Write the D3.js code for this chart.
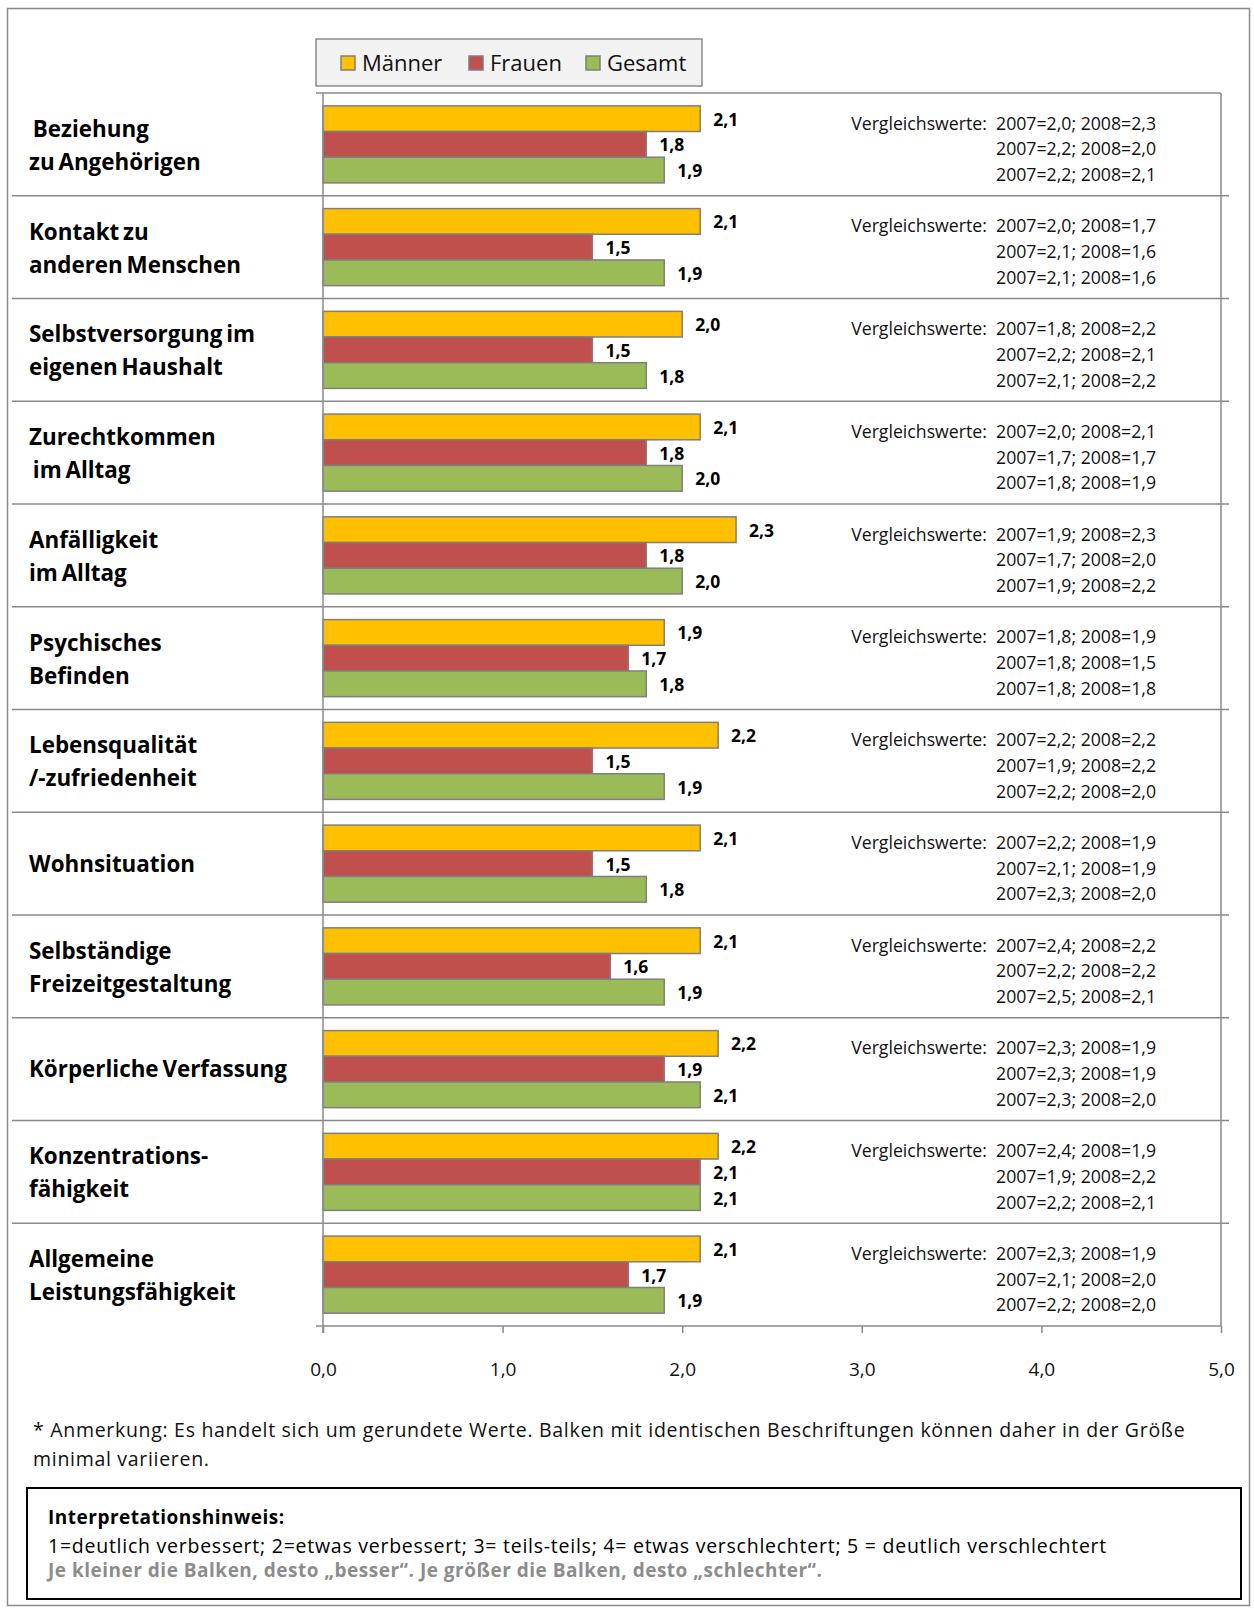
<!DOCTYPE html>
<html lang="de">
<head>
<meta charset="utf-8">
<script src="https://cdn.jsdelivr.net/npm/d3@7"></script>
<style>
  html, body { margin: 0; padding: 0; background: #fff; }
  svg { display: block; font-family: "Open Sans", "Noto Sans", sans-serif; }
  text { white-space: pre; }
</style>
</head>
<body>
<svg id="chart" width="1254" height="1612"></svg>
<script>
// Bereiche (Zeilenumbrüche im Label als Array)
const categories = [
  [" Beziehung", "zu Angehörigen"],
  ["Kontakt zu", "anderen Menschen"],
  ["Selbstversorgung im", "eigenen Haushalt"],
  ["Zurechtkommen", " im Alltag"],
  ["Anfälligkeit", "im Alltag"],
  ["Psychisches", "Befinden"],
  ["Lebensqualität", "/-zufriedenheit"],
  ["Wohnsituation"],
  ["Selbständige", "Freizeitgestaltung"],
  ["Körperliche Verfassung"],
  ["Konzentrations-", "fähigkeit"],
  ["Allgemeine", "Leistungsfähigkeit"]
];

const seriesNames = ["Männer", "Frauen", "Gesamt"];

// Mittelwerte (gerundet)
const maenner = [2.1, 2.1, 2.0, 2.1, 2.3, 1.9, 2.2, 2.1, 2.1, 2.2, 2.2, 2.1];
const frauen  = [1.8, 1.5, 1.5, 1.8, 1.8, 1.7, 1.5, 1.5, 1.6, 1.9, 2.1, 1.7];
const gesamt  = [1.9, 1.9, 1.8, 2.0, 2.0, 1.8, 1.9, 1.8, 1.9, 2.1, 2.1, 1.9];

// Vergleichswerte der Vorjahre
const vgl2007Maenner = ["2,0", "2,0", "1,8", "2,0", "1,9", "1,8", "2,2", "2,2", "2,4", "2,3", "2,4", "2,3"];
const vgl2008Maenner = ["2,3", "1,7", "2,2", "2,1", "2,3", "1,9", "2,2", "1,9", "2,2", "1,9", "1,9", "1,9"];
const vgl2007Frauen  = ["2,2", "2,1", "2,2", "1,7", "1,7", "1,8", "1,9", "2,1", "2,2", "2,3", "1,9", "2,1"];
const vgl2008Frauen  = ["2,0", "1,6", "2,1", "1,7", "2,0", "1,5", "2,2", "1,9", "2,2", "1,9", "2,2", "2,0"];
const vgl2007Gesamt  = ["2,2", "2,1", "2,1", "1,8", "1,9", "1,8", "2,2", "2,3", "2,5", "2,3", "2,2", "2,2"];
const vgl2008Gesamt  = ["2,1", "1,6", "2,2", "1,9", "2,2", "1,8", "2,0", "2,0", "2,1", "2,0", "2,1", "2,0"];

const xTicks = [0, 1, 2, 3, 4, 5];

const colors = { "Männer": "#FFC000", "Frauen": "#C0504D", "Gesamt": "#9BBB59" };

const values = { "Männer": maenner, "Frauen": frauen, "Gesamt": gesamt };
const vgl = {
  "Männer": [vgl2007Maenner, vgl2008Maenner],
  "Frauen": [vgl2007Frauen, vgl2008Frauen],
  "Gesamt": [vgl2007Gesamt, vgl2008Gesamt]
};

const comma = d => d3.format(".1f")(d).replace(".", ",");

const svg = d3.select("#chart");

// Layout
const plot = { left: 323, right: 1221, top: 93, bottom: 1326 };
const gridColor = "#8a8a8a";

const x = d3.scaleLinear().domain([0, 5]).range([plot.left, plot.right]);
const y = d3.scaleBand().domain(d3.range(categories.length)).range([plot.top, plot.bottom]);
const ySub = d3.scaleBand().domain(seriesNames).range([0, y.bandwidth()]).paddingInner(0).paddingOuter(0.5);

// Außenrahmen
svg.append("rect")
  .attr("x", 7.5).attr("y", 8.5).attr("width", 1242).attr("height", 1597)
  .attr("fill", "none").attr("stroke", gridColor).attr("stroke-width", 1.5);

// Legende
const lg = svg.append("g");
lg.append("rect")
  .attr("x", 316).attr("y", 39).attr("width", 386).attr("height", 47)
  .attr("fill", "#F2F2F2").attr("stroke", gridColor).attr("stroke-width", 1.5);
const legendX = [341, 469, 586];
seriesNames.forEach((s, i) => {
  lg.append("rect")
    .attr("x", legendX[i]).attr("y", 56).attr("width", 14).attr("height", 14)
    .attr("fill", colors[s]).attr("stroke", "#7f7f7f").attr("stroke-width", 1.5);
  lg.append("text")
    .attr("x", legendX[i] + 21).attr("y", 71)
    .attr("font-size", 22).attr("fill", "#111")
    .text(s);
});

// Rahmen des Diagrammbereichs
svg.append("line")
  .attr("x1", 316).attr("x2", plot.right).attr("y1", plot.top).attr("y2", plot.top)
  .attr("stroke", gridColor).attr("stroke-width", 1.5);
svg.append("line")
  .attr("x1", plot.right).attr("x2", plot.right).attr("y1", plot.top).attr("y2", plot.bottom)
  .attr("stroke", gridColor).attr("stroke-width", 1.5);

// Trennlinien zwischen den Bereichen
svg.append("g").selectAll("line")
  .data(d3.range(1, categories.length))
  .join("line")
  .attr("x1", 12).attr("x2", 1229)
  .attr("y1", i => y(i)).attr("y2", i => y(i))
  .attr("stroke", gridColor).attr("stroke-width", 1.5);

// Balken
const groups = svg.append("g").selectAll("g")
  .data(categories.map((c, i) => i))
  .join("g")
  .attr("transform", i => `translate(0,${y(i)})`);

groups.selectAll("rect")
  .data(i => seriesNames.map(s => ({ s, v: values[s][i] })))
  .join("rect")
  .attr("x", x(0))
  .attr("y", d => ySub(d.s))
  .attr("width", d => x(d.v) - x(0))
  .attr("height", ySub.bandwidth())
  .attr("fill", d => colors[d.s])
  .attr("stroke", "#7f7f7f")
  .attr("stroke-width", 1.5);

// Wertbeschriftungen
groups.selectAll("text.val")
  .data(i => seriesNames.map(s => ({ s, v: values[s][i] })))
  .join("text")
  .attr("class", "val")
  .attr("x", d => x(d.v) + 13)
  .attr("y", d => ySub(d.s) + ySub.bandwidth() / 2 + 7)
  .attr("font-size", 17.5).attr("font-weight", 700).attr("fill", "#000")
  .text(d => comma(d.v));

// Vergleichswerte rechts
groups.selectAll("text.vgl")
  .data(i => seriesNames.map((s, k) => ({ s, k, a: vgl[s][0][i], b: vgl[s][1][i] })))
  .join("text")
  .attr("class", "vgl")
  .attr("x", 1156)
  .attr("y", d => ySub(d.s) + ySub.bandwidth() / 2 + 11)
  .attr("text-anchor", "end")
  .attr("font-size", 17.7).attr("fill", "#111")
  .text(d => (d.k === 0 ? "Vergleichswerte:  " : "") + `2007=${d.a}; 2008=${d.b}`);

// Bereichsnamen links
groups.append("text")
  .attr("font-size", 22.4).attr("font-weight", 700).attr("fill", "#000")
  .attr("word-spacing", -2)
  .each(function (i) {
    const lines = categories[i];
    const c = y.bandwidth() / 2;
    const capCenters = lines.length === 1 ? [c] : [c - 15.5, c + 17.5];
    d3.select(this).selectAll("tspan")
      .data(lines)
      .join("tspan")
      .attr("x", 29)
      .attr("y", (l, j) => capCenters[j] + 8)
      .text(l => l);
  });

// Senkrechte Achse
svg.append("line")
  .attr("x1", plot.left).attr("x2", plot.left).attr("y1", plot.top).attr("y2", plot.bottom + 7)
  .attr("stroke", gridColor).attr("stroke-width", 1.5);

// Waagerechte Achse
const xAxis = d3.axisBottom(x)
  .tickValues(xTicks)
  .tickFormat(comma)
  .tickSize(7)
  .tickPadding(30);
const ax = svg.append("g")
  .attr("transform", `translate(0,${plot.bottom})`)
  .call(xAxis);
ax.select(".domain").remove();
ax.append("line")
  .attr("x1", 316).attr("x2", plot.right)
  .attr("y1", 0).attr("y2", 0)
  .attr("stroke", gridColor).attr("stroke-width", 1.5);
ax.selectAll(".tick line").attr("stroke", gridColor).attr("stroke-width", 1.5);
ax.selectAll(".tick text")
  .attr("font-size", 19).attr("fill", "#111")
  .attr("font-family", "'Open Sans', sans-serif");

// Anmerkung
const note = svg.append("text").attr("font-size", 19.5).attr("letter-spacing", 0.7).attr("fill", "#111");
note.append("tspan").attr("x", 33).attr("y", 1437)
  .text("* Anmerkung: Es handelt sich um gerundete Werte. Balken mit identischen Beschriftungen können daher in der Größe");
note.append("tspan").attr("x", 33).attr("y", 1466)
  .text("minimal variieren.");

// Interpretationshinweis
svg.append("rect")
  .attr("x", 27).attr("y", 1488).attr("width", 1214).attr("height", 111)
  .attr("fill", "#fff").attr("stroke", "#000").attr("stroke-width", 2);
svg.append("text").attr("x", 48).attr("y", 1524)
  .attr("font-size", 19).attr("letter-spacing", 0.5).attr("font-weight", 700).attr("fill", "#000")
  .text("Interpretationshinweis:");
svg.append("text").attr("x", 48).attr("y", 1553)
  .attr("font-size", 19.5).attr("letter-spacing", 0.75).attr("fill", "#000")
  .text("1=deutlich verbessert; 2=etwas verbessert; 3= teils-teils; 4= etwas verschlechtert; 5 = deutlich verschlechtert");
svg.append("text").attr("x", 48).attr("y", 1577)
  .attr("font-size", 19).attr("letter-spacing", 0.5).attr("font-weight", 700).attr("fill", "#8c8c8c")
  .text("Je kleiner die Balken, desto „besser“. Je größer die Balken, desto „schlechter“.");
</script>
</body>
</html>
